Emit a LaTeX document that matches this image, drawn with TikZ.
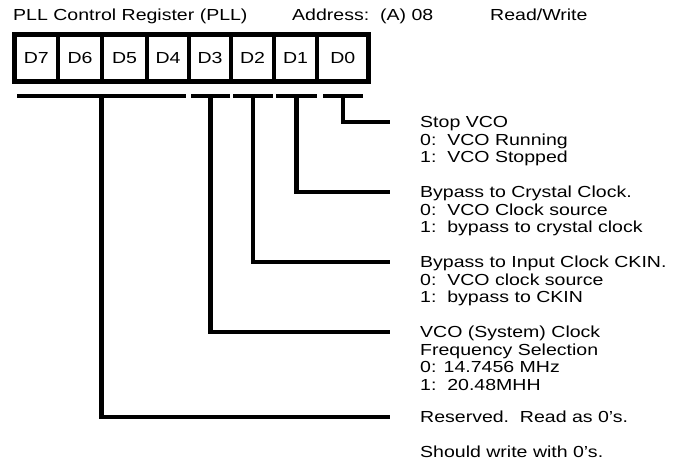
\documentclass[tikz,border=0pt]{standalone}
\usepackage{fontspec}
\setmainfont{Liberation Sans}[FakeStretch=1.22]
\begin{document}
\begin{tikzpicture}[x=1pt,y=-1pt,
  txt/.style={font=\fontsize{16}{17.5}\selectfont, inner sep=0pt, align=left, anchor=north west},
  hdr/.style={font=\fontsize{16}{17.5}\selectfont, inner sep=0pt, anchor=base west},
  cell/.style={draw, line width=4.6pt, inner sep=0pt, minimum height=47pt, font=\fontsize{16}{17.5}\selectfont},
  bar/.style={fill=black, inner sep=0pt, minimum height=4.4pt},
  conn/.style={line width=4.2pt}]
\useasboundingbox (0,0) rectangle (675,468);
% header
\node[hdr] (title) at (13,21) {PLL Control Register (PLL)};
\node[hdr] (addr) at (292,21) {Address:\ \ (A) 08};
\node[hdr] (rw) at (490,21) {Read/Write};
% register cells
\node[cell, minimum width=43.5pt] (d7) at (36.25,58) {D7};
\node[cell, minimum width=44pt] (d6) at (80,58) {D6};
\node[cell, minimum width=45pt] (d5) at (124.5,58) {D5};
\node[cell, minimum width=42pt] (d4) at (168,58) {D4};
\node[cell, minimum width=42pt] (d3) at (210,58) {D3};
\node[cell, minimum width=43pt] (d2) at (252.5,58) {D2};
\node[cell, minimum width=43pt] (d1) at (295.5,58) {D1};
\node[cell, minimum width=51.5pt] (d0) at (342.75,58) {\raisebox{-4pt}{D0}};
% bars
\node[bar, minimum width=169pt] (b74) at (101.5,96) {};
\node[bar, minimum width=39pt] (b3) at (210.5,96) {};
\node[bar, minimum width=40pt] (b2) at (253,96) {};
\node[bar, minimum width=41pt] (b1) at (296.5,96) {};
\node[bar, minimum width=40pt] (b0) at (343,96) {};
% connector ends
\coordinate (e0) at (390,122);
\coordinate (e1) at (390,192);
\coordinate (e2) at (390,262);
\coordinate (e3) at (390,332);
\coordinate (e4) at (390,417);
% descriptions
\node[txt] (t0) at (420,114.75) {\rule{0pt}{13pt}Stop VCO\\0:\ \ VCO Running\\1:\ \ VCO Stopped};
\node[txt] (t1) at (420,184.75) {\rule{0pt}{13pt}Bypass to Crystal Clock.\\0:\ \ VCO Clock source\\1:\ \ bypass to crystal clock};
\node[txt] (t2) at (420,254.75) {\rule{0pt}{13pt}Bypass to Input Clock CKIN.\\0:\ \ VCO clock source\\1:\ \ bypass to CKIN};
\node[txt] (t3) at (420,324.75) {\rule{0pt}{13pt}VCO (System) Clock\\Frequency Selection\\0: 14.7456 MHz\\1:\ \ 20.48MHH};
\node[txt] (t4) at (420,409.75) {\rule{0pt}{13pt}Reserved.\ \ Read as 0's.\\[17.5pt]Should write with 0's.};
% connectors
\draw[conn] (b0.center) |- (e0);
\draw[conn] (b1.center) |- (e1);
\draw[conn] (b2.center) |- (e2);
\draw[conn] (b3.center) |- (e3);
\draw[conn] (b74.center) |- (e4);
\end{tikzpicture}
\end{document}
